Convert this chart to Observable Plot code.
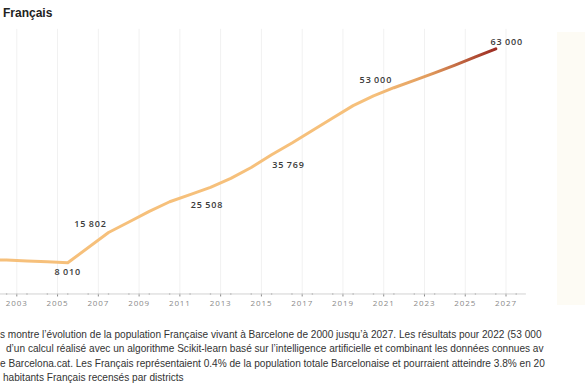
<!DOCTYPE html>
<html>
<head>
<meta charset="utf-8">
<script src="https://cdn.jsdelivr.net/npm/d3@7"></script>
<script src="https://cdn.jsdelivr.net/npm/@observablehq/plot@0.6"></script>
<style>
  html, body { margin: 0; padding: 0; background: #fff; width: 585px; height: 390px; overflow: hidden; position: relative; }
  #title { position: absolute; left: 3px; top: 6px; font: bold 12px/14px "Liberation Sans", Arial, sans-serif; color: #222; white-space: nowrap; }
  #panel { position: absolute; left: 557px; top: 32px; width: 28px; height: 273px; background: #fdfbf4; }
  #chart { position: absolute; left: 0; top: 24px; }
  #chart svg text { letter-spacing: 0.9px; }
  #caption { position: absolute; left: 0; top: 328px; width: 585px; font: 10.1px/14.4px "Liberation Sans", Arial, sans-serif; color: #333; }
  #caption div { white-space: nowrap; overflow: hidden; }
</style>
</head>
<body>
<div id="title">Français</div>
<div id="panel"></div>
<div id="chart"></div>
<div id="caption"></div>
<script>
// Data (mid-year positions)
const years = [2000.5, 2001.5, 2002.5, 2003.5, 2004.5, 2005.5, 2007.5, 2008.5, 2009.5, 2010.5, 2011.5, 2012.5, 2013.5, 2014.5, 2015.5, 2016.5, 2017.5, 2018.5, 2019.5, 2020.5, 2021.5, 2022.5, 2023.5, 2024.5, 2025.5, 2026.5];
const population = [9100, 8880, 8700, 8500, 8260, 8010, 15802, 18490, 21215, 23700, 25508, 27400, 29700, 32500, 35769, 38800, 42000, 45200, 48400, 50900, 53000, 54900, 56800, 58800, 60900, 63000];
const labelYears = [2005.5, 2007.5, 2011.5, 2015.5, 2021.5, 2026.5];
const labelPlacement = ["below", "upleft", "downright", "downright", "upleft", "upright"];
const tickYears = [2003, 2005, 2007, 2009, 2011, 2013, 2015, 2017, 2019, 2021, 2023, 2025, 2027];
const minorYears = [2002.5, 2003.5, 2004.5, 2005.5, 2006.5, 2007.5, 2008.5, 2009.5, 2010.5, 2011.5, 2012.5, 2013.5, 2014.5, 2015.5, 2016.5, 2017.5, 2018.5, 2019.5, 2020.5, 2021.5, 2022.5, 2023.5, 2024.5, 2025.5, 2026.5, 2027.5];
const captionLines = [
  "s montre l’évolution de la population Française vivant à Barcelone de 2000 jusqu’à 2027. Les résultats pour 2022 (53 000",
  "d’un calcul réalisé avec un algorithme Scikit-learn basé sur l’intelligence artificielle et combinant les données connues av",
  "e Barcelona.cat. Les Français représentaient 0.4% de la population totale Barcelonaise et pourraient atteindre 3.8% en 20",
  "habitants Français recensés par districts"
];
const captionIndent = [0, 6, 0, 3];

const data = years.map((y, i) => ({year: y, value: population[i]}));
const labels = labelYears.map((y, i) => ({year: y, value: population[years.indexOf(y)], place: labelPlacement[i]}));
const fr = d3.formatLocale({decimal: ",", thousands: "\u2009", grouping: [3], currency: ["", ""]});
const fmt = fr.format(",");

const labelStyle = {fontSize: 9, fontWeight: 600, fontFamily: "Open Sans, sans-serif", fill: "#3a3a3a", text: d => fmt(d.value), x: "year", y: "value"};
const offsets = {below: [0, 9], upleft: [-18, -8], downright: [17, 10], upright: [11, -7]};
const labelMarks = Object.entries(offsets).map(([k, [dx, dy]]) =>
  Plot.text(labels.filter(d => d.place === k), {...labelStyle, dx, dy}));

const chart = Plot.plot({
  width: 585,
  height: 290,
  marginLeft: 0,
  marginRight: 0,
  marginTop: 24.3,
  marginBottom: 20.53,
  style: {fontFamily: "Open Sans, sans-serif", fontSize: "8px", color: "#8a8a8a", background: "transparent", overflow: "hidden"},
  x: {domain: [2002.2, 2030.9], ticks: tickYears, tickFormat: d => String(d), tickSize: 3, tickPadding: 3, label: null},
  y: {domain: [0, 63000], axis: null},
  marks: [
    Plot.ruleX(tickYears, {y1: 0, y2: 68000, stroke: "#f1f1f1"}),
    Plot.ruleY([0], {x1: 2002.2, x2: 2028, stroke: "#d2d2d2"}),
    Plot.dot(minorYears, {x: d => d, y: d => 0, r: 0.8, fill: "#b5b5b5", stroke: null}),
    Plot.line(data, {x: "year", y: "value", stroke: "url(#lineGrad)", strokeWidth: 3, strokeLinejoin: "round", strokeLinecap: "round"}),
    ...labelMarks
  ]
});

const xs = chart.scale("x");
const defs = d3.select(chart).insert("defs", ":first-child");
const grad = defs.append("linearGradient")
  .attr("id", "lineGrad")
  .attr("gradientUnits", "userSpaceOnUse")
  .attr("x1", xs.apply(2020.5)).attr("x2", xs.apply(2026.5))
  .attr("y1", 0).attr("y2", 0);
grad.append("stop").attr("offset", "0%").attr("stop-color", "#f6c07b");
grad.append("stop").attr("offset", "45%").attr("stop-color", "#e19b5c");
grad.append("stop").attr("offset", "100%").attr("stop-color", "#9c2b22");

document.getElementById("chart").appendChild(chart);

const cap = document.getElementById("caption");
captionLines.forEach((t, i) => {
  const d = document.createElement("div");
  d.style.paddingLeft = captionIndent[i] + "px";
  d.textContent = t;
  cap.appendChild(d);
});
</script>
</body>
</html>
